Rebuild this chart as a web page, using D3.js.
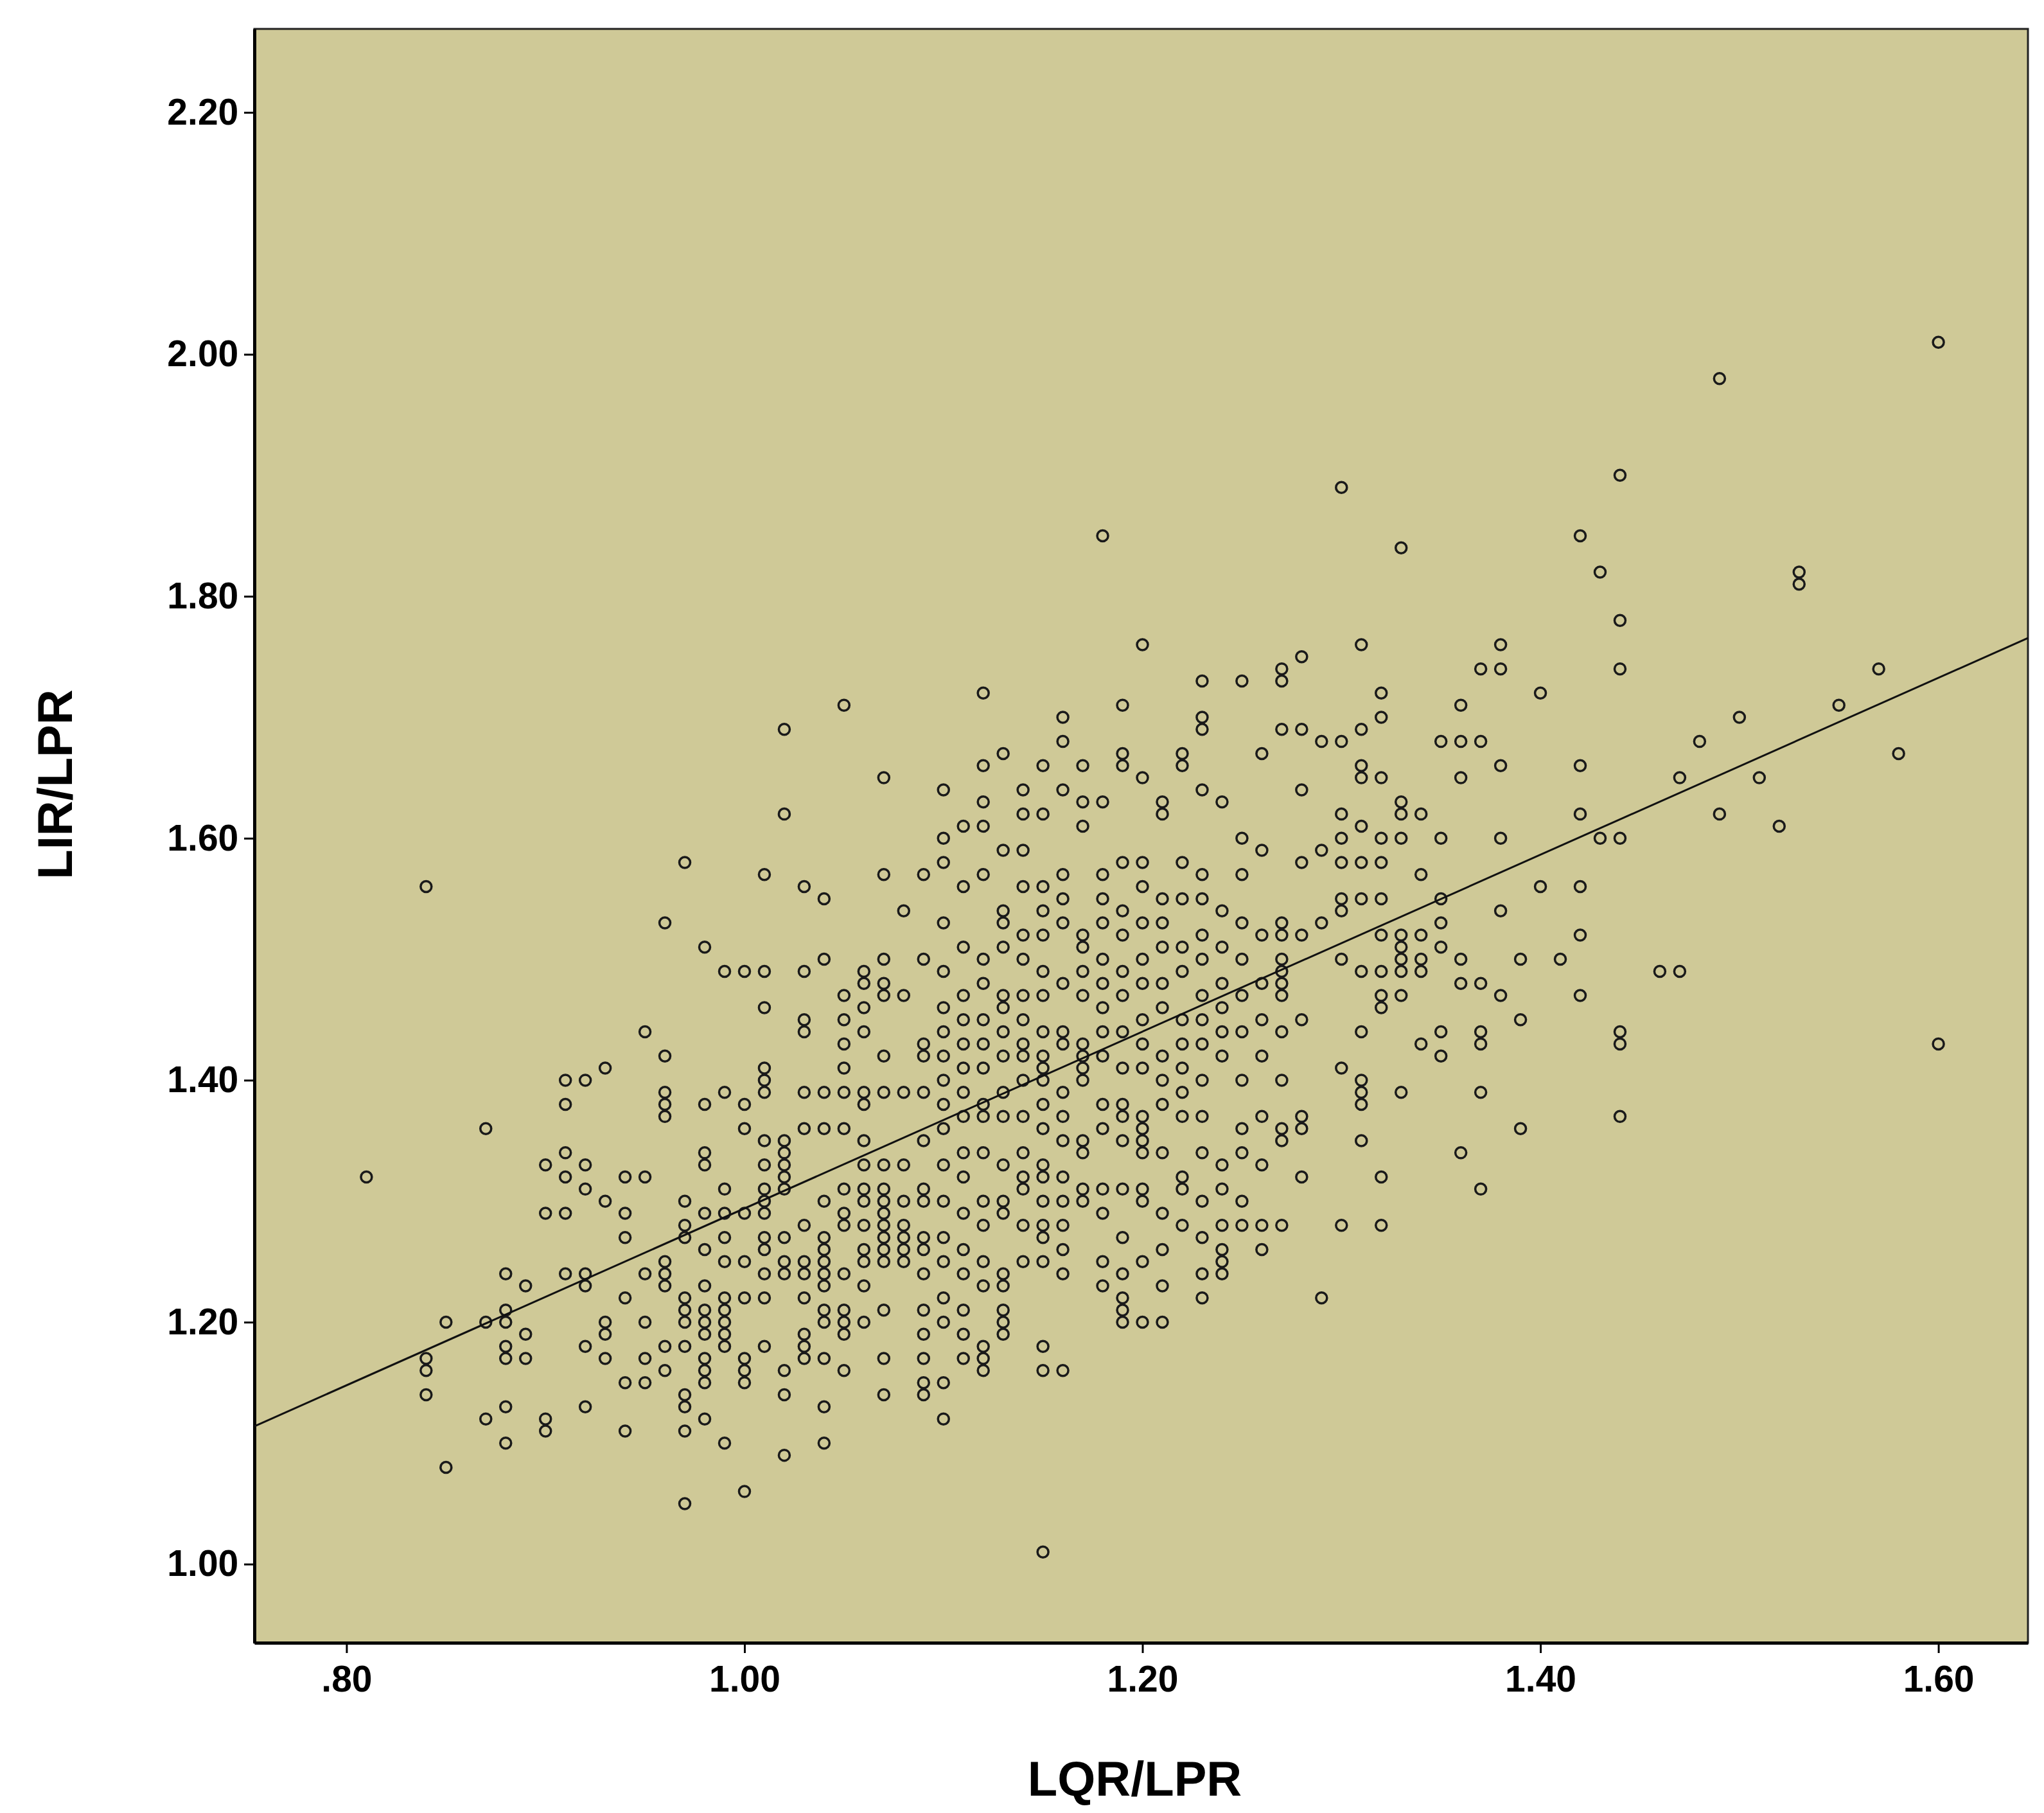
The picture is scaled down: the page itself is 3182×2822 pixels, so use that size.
<!DOCTYPE html>
<html>
<head>
<meta charset="utf-8">
<script src="https://cdn.jsdelivr.net/npm/d3@7"></script>
<style>
  body { margin: 0; background: #fff; }
  text { font-family: "Liberation Sans", Arial, sans-serif; font-weight: bold; }
</style>
</head>
<body>
<svg id="chart" width="3182" height="2822"></svg>
<script>
// columns of LIR/LPR values, one per LQR/LPR value
const xValues = [0.81,0.84,0.85,0.87,0.88,0.89,0.90,0.91,0.92,0.93,0.94,0.95,0.96,0.97,0.98,0.99,1.00,1.01,1.02,1.03,1.04,1.05,1.06,1.07,1.08,1.09,1.10,1.11,1.12,1.13,1.14,1.15,1.16,1.17,1.18,1.19,1.20,1.21,1.22,1.23,1.24,1.25,1.26,1.27,1.28,1.29,1.30,1.31,1.32,1.33,1.34,1.35,1.36,1.37,1.38,1.39,1.40,1.41,1.42,1.43,1.44,1.46,1.47,1.48,1.49,1.50,1.51,1.52,1.53,1.55,1.57,1.58,1.60]
const yColumns = [
  [1.32],
  [1.56,1.17,1.16,1.14],
  [1.20,1.08],
  [1.36,1.20,1.12],
  [1.24,1.21,1.20,1.18,1.17,1.13,1.10],
  [1.23,1.19,1.17],
  [1.33,1.29,1.12,1.11],
  [1.40,1.38,1.34,1.32,1.29,1.24],
  [1.40,1.33,1.31,1.24,1.23,1.18,1.13],
  [1.41,1.30,1.20,1.19,1.17],
  [1.32,1.29,1.27,1.22,1.15,1.11],
  [1.44,1.32,1.24,1.20,1.17,1.15],
  [1.53,1.42,1.39,1.38,1.37,1.25,1.24,1.23,1.18,1.16],
  [1.58,1.30,1.28,1.27,1.22,1.21,1.20,1.18,1.14,1.13,1.11,1.05],
  [1.51,1.38,1.34,1.33,1.29,1.26,1.23,1.21,1.20,1.19,1.17,1.16,1.15,1.12],
  [1.49,1.39,1.31,1.29,1.27,1.25,1.22,1.21,1.20,1.19,1.18,1.10],
  [1.49,1.38,1.36,1.29,1.25,1.22,1.17,1.16,1.15,1.06],
  [1.57,1.49,1.46,1.41,1.40,1.39,1.35,1.33,1.31,1.30,1.29,1.27,1.26,1.24,1.22,1.18],
  [1.69,1.62,1.35,1.34,1.33,1.32,1.31,1.27,1.25,1.24,1.16,1.14,1.09],
  [1.56,1.49,1.45,1.44,1.39,1.36,1.28,1.25,1.24,1.22,1.19,1.18,1.17],
  [1.55,1.50,1.39,1.36,1.30,1.27,1.26,1.25,1.24,1.23,1.21,1.20,1.17,1.13,1.10],
  [1.71,1.47,1.45,1.43,1.41,1.39,1.36,1.31,1.29,1.28,1.24,1.21,1.20,1.19,1.16],
  [1.49,1.48,1.46,1.44,1.39,1.38,1.35,1.33,1.31,1.30,1.28,1.26,1.25,1.23,1.20],
  [1.65,1.57,1.50,1.48,1.47,1.42,1.39,1.33,1.31,1.30,1.29,1.28,1.27,1.26,1.25,1.21,1.17,1.14],
  [1.54,1.47,1.39,1.33,1.30,1.28,1.27,1.26,1.25],
  [1.57,1.50,1.43,1.42,1.39,1.35,1.31,1.30,1.27,1.26,1.24,1.21,1.19,1.17,1.15,1.14],
  [1.64,1.60,1.58,1.53,1.49,1.46,1.44,1.42,1.40,1.38,1.36,1.33,1.30,1.27,1.25,1.22,1.20,1.15,1.12],
  [1.61,1.56,1.51,1.47,1.45,1.43,1.41,1.39,1.37,1.34,1.32,1.29,1.26,1.24,1.21,1.19,1.17],
  [1.72,1.66,1.63,1.61,1.57,1.50,1.48,1.45,1.43,1.41,1.38,1.37,1.34,1.30,1.28,1.25,1.23,1.18,1.17,1.16],
  [1.67,1.59,1.54,1.53,1.51,1.47,1.46,1.44,1.42,1.39,1.37,1.33,1.30,1.29,1.24,1.23,1.21,1.20,1.19],
  [1.64,1.62,1.59,1.56,1.52,1.50,1.47,1.45,1.43,1.42,1.40,1.37,1.34,1.32,1.31,1.28,1.25],
  [1.66,1.62,1.56,1.54,1.52,1.49,1.47,1.44,1.42,1.41,1.40,1.38,1.36,1.33,1.32,1.30,1.28,1.27,1.25,1.18,1.16,1.01],
  [1.70,1.68,1.64,1.57,1.55,1.53,1.48,1.44,1.43,1.39,1.37,1.35,1.32,1.30,1.28,1.26,1.24,1.16],
  [1.66,1.63,1.61,1.52,1.51,1.49,1.47,1.43,1.42,1.41,1.40,1.35,1.34,1.31,1.30],
  [1.85,1.63,1.57,1.55,1.53,1.50,1.48,1.46,1.44,1.42,1.38,1.36,1.31,1.29,1.25,1.23],
  [1.71,1.67,1.66,1.58,1.54,1.52,1.49,1.47,1.44,1.41,1.38,1.37,1.35,1.31,1.27,1.24,1.22,1.21,1.20],
  [1.76,1.65,1.58,1.56,1.53,1.50,1.48,1.45,1.43,1.41,1.37,1.36,1.35,1.34,1.31,1.30,1.25,1.20],
  [1.63,1.62,1.55,1.53,1.51,1.48,1.46,1.42,1.40,1.38,1.34,1.29,1.26,1.23,1.20],
  [1.67,1.66,1.58,1.55,1.51,1.49,1.45,1.43,1.41,1.39,1.37,1.32,1.31,1.28],
  [1.73,1.70,1.69,1.64,1.57,1.55,1.52,1.50,1.47,1.45,1.43,1.40,1.37,1.34,1.30,1.27,1.24,1.22],
  [1.63,1.54,1.51,1.48,1.46,1.44,1.42,1.33,1.31,1.28,1.26,1.25,1.24],
  [1.73,1.60,1.57,1.53,1.50,1.47,1.44,1.40,1.36,1.34,1.30,1.28],
  [1.67,1.59,1.52,1.48,1.45,1.42,1.37,1.33,1.28,1.26],
  [1.74,1.73,1.69,1.53,1.52,1.50,1.49,1.48,1.47,1.44,1.40,1.36,1.35,1.28],
  [1.75,1.69,1.64,1.58,1.52,1.45,1.37,1.36,1.32],
  [1.68,1.59,1.53,1.22],
  [1.89,1.68,1.62,1.60,1.58,1.55,1.54,1.50,1.41,1.28],
  [1.76,1.69,1.66,1.65,1.61,1.58,1.55,1.49,1.44,1.40,1.39,1.38,1.35],
  [1.72,1.70,1.65,1.60,1.58,1.55,1.52,1.49,1.47,1.46,1.32,1.28],
  [1.84,1.63,1.62,1.60,1.52,1.51,1.50,1.49,1.47,1.39],
  [1.62,1.57,1.52,1.50,1.49,1.43],
  [1.68,1.60,1.55,1.53,1.51,1.44,1.42],
  [1.71,1.68,1.65,1.50,1.48,1.34],
  [1.74,1.68,1.48,1.44,1.43,1.39,1.31],
  [1.76,1.74,1.66,1.60,1.54,1.47],
  [1.50,1.45,1.36],
  [1.72,1.56],
  [1.50],
  [1.85,1.66,1.62,1.56,1.52,1.47],
  [1.82,1.60],
  [1.90,1.78,1.74,1.60,1.44,1.43,1.37],
  [1.49],
  [1.65,1.49],
  [1.68],
  [1.98,1.62],
  [1.70],
  [1.65],
  [1.61],
  [1.82,1.81],
  [1.71],
  [1.74],
  [1.67],
  [2.01,1.43]
]
// fit line
const fitIntercept = 0.563
const fitSlope = 0.731

const xTicks = [0.8, 1.0, 1.2, 1.4, 1.6]
const yTicks = [1.0, 1.2, 1.4, 1.6, 1.8, 2.0, 2.2]

const points = xValues.flatMap((x, i) => yColumns[i].map(y => ({x, y})))

const svg = d3.select('#chart')
const plotLeft = 396, plotRight = 3157, plotTop = 45, plotBottom = 2557

const x = d3.scaleLinear().domain([0.7537, 1.645]).range([plotLeft, plotRight])
const y = d3.scaleLinear().domain([0.935, 2.269]).range([plotBottom, plotTop])

svg.append('rect')
  .attr('x', plotLeft).attr('y', plotTop)
  .attr('width', plotRight - plotLeft).attr('height', plotBottom - plotTop)
  .attr('fill', '#cfc997').attr('stroke', '#222').attr('stroke-width', 3)

const fmt = d => d3.format('.2f')(d).replace(/^0/, '')

const xAxis = svg.append('g')
  .attr('transform', `translate(0,${plotBottom})`)
  .call(d3.axisBottom(x).tickValues(xTicks).tickFormat(fmt).tickSize(16).tickSizeOuter(0))
const yAxis = svg.append('g')
  .attr('transform', `translate(${plotLeft},0)`)
  .call(d3.axisLeft(y).tickValues(yTicks).tickFormat(fmt).tickSize(16).tickSizeOuter(0))

for (const ax of [xAxis, yAxis]) {
  ax.select('.domain').attr('stroke', '#000').attr('stroke-width', 5)
  ax.selectAll('.tick line').attr('stroke', '#000').attr('stroke-width', 3)
  ax.selectAll('text').attr('font-size', 57).attr('fill', '#000')
    .style('font-family', '"Liberation Sans", Arial, sans-serif').style('font-weight', 'bold')
}
xAxis.selectAll('text').attr('dy', '1.0em')
yAxis.selectAll('text').attr('dx', '-0.1em')

svg.append('g').selectAll('circle').data(points).join('circle')
  .attr('cx', d => x(d.x)).attr('cy', d => y(d.y)).attr('r', 8.5)
  .attr('fill', 'none').attr('stroke', '#1a1a1a').attr('stroke-width', 3.5)

const xd = x.domain()
svg.append('line')
  .attr('x1', x(xd[0])).attr('y1', y(fitIntercept + fitSlope * xd[0]))
  .attr('x2', x(xd[1])).attr('y2', y(fitIntercept + fitSlope * xd[1]))
  .attr('stroke', '#111').attr('stroke-width', 3)

svg.append('text')
  .attr('x', (plotLeft + plotRight) / 2 - 10).attr('y', 2795)
  .attr('text-anchor', 'middle').attr('font-size', 76)
  .text('LQR/LPR')
svg.append('text')
  .attr('transform', `translate(112,${(plotTop + plotBottom) / 2 - 80}) rotate(-90)`)
  .attr('text-anchor', 'middle').attr('font-size', 76)
  .text('LIR/LPR')
</script>
</body>
</html>
